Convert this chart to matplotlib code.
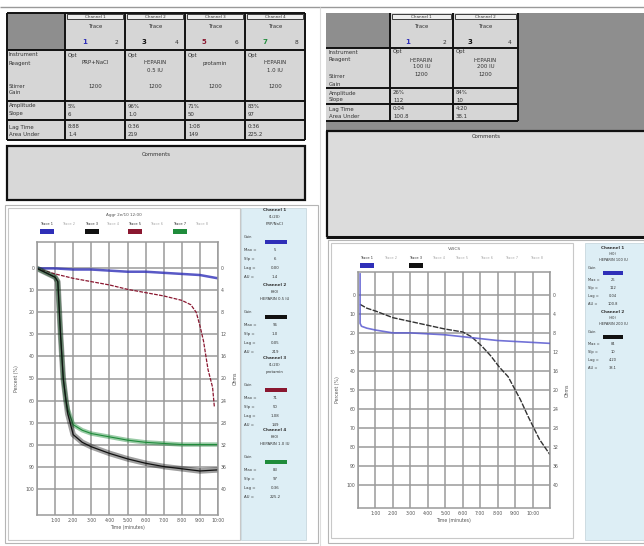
import matplotlib
matplotlib.use("Agg")
import matplotlib.pyplot as plt
from matplotlib.patches import Rectangle

W, H = 644, 546

# ---- data ----
trace_names = ['Trace 1', 'Trace 2', 'Trace 3', 'Trace 4', 'Trace 5', 'Trace 6', 'Trace 7', 'Trace 8']
col_blue, col_black, col_red, col_green = '#2f2fb8', '#111111', '#8a1730', '#1f8c3b'

# left test: time in minutes, aggregation in %
left_t_blue = [0, 1, 2, 3, 4, 5, 6, 7, 8, 9, 10]
left_blue = [0, 0, 0.5, 0.5, 1, 1.5, 1.5, 2, 2.5, 3, 4.5]
left_t_red = [0, 1, 2, 3, 4, 5, 6, 7, 8, 8.5, 8.8, 9.0, 9.2, 9.45, 9.7, 9.8]
left_red = [0, 2.5, 4.5, 6, 7.5, 9.5, 11, 12.5, 14.5, 16.5, 20, 26, 33, 46, 54, 63]
left_t_fast = [0, 0.5, 1.0, 1.15, 1.3, 1.45, 1.6, 1.7, 2, 2.5, 3, 4, 5, 6, 7, 8, 9, 10]
left_black = [0, 2, 4, 6, 30, 50, 60, 66, 75.5, 79, 81, 84, 86.5, 88.5, 90, 91, 92, 91.5]
left_green = [0, 2, 4, 6, 30, 50, 60, 64, 71, 73.5, 75, 76.5, 78, 79, 79.5, 80, 80, 80]

# right test
right_t_blue = [0.12, 0.12, 0.2, 0.5, 1, 2, 3, 4, 5, 6, 7, 8, 9, 10, 11]
right_blue = [-11, 15, 16.5, 17.5, 18.5, 20, 20, 20.5, 21, 22, 23, 24, 24.5, 25, 25.5]
right_t_black = [0.12, 0.5, 1, 2, 3, 4, 5, 6, 6.5, 7.1, 7.6, 8.1, 8.6, 9.3, 9.75, 10.4, 11]
right_black = [5, 7, 8.5, 12, 14, 16, 18, 19.5, 22, 27, 32, 38, 43, 55, 64, 76, 84]

x_labels = ['1:00', '2:00', '3:00', '4:00', '5:00', '6:00', '7:00', '8:00', '9:00', '10:00']

# table contents
row_labels = ['Instrument', 'Reagent', 'Stirrer', 'Gain', 'Amplitude', 'Slope', 'Lag Time', 'Area Under']
left_channels = ['Channel 1', 'Channel 2', 'Channel 3', 'Channel 4']
left_trace_nums = [('1', '2'), ('3', '4'), ('5', '6'), ('7', '8')]
left_trace_cols = [col_blue, col_black, col_red, col_green]
left_reagent = ['PRP+NaCl', 'HEPARIN', 'protamin', 'HEPARIN']
left_dose = ['', '0.5 IU', '', '1.0 IU']
left_amp = ['5%', '96%', '71%', '83%']
left_slope = ['6', '1.0', '50', '97']
left_lag = ['8:88', '0:36', '1:08', '0:36']
left_area = ['1.4', '219', '149', '225.2']

right_channels = ['Channel 1', 'Channel 2']
right_trace_nums = [('1', '2'), ('3', '4')]
right_trace_cols = [col_blue, col_black]
right_reagent = ['HEPARIN', 'HEPARIN']
right_dose = ['100 IU', '200 IU']
right_amp = ['26%', '84%']
right_slope = ['112', '10']
right_lag = ['0:04', '4:20']
right_area = ['100.8', '38.1']

fig = plt.figure(figsize=(W / 100, H / 100), dpi=100)
bg = fig.add_axes([0, 0, 1, 1])
bg.set_xlim(0, W)
bg.set_ylim(H, 0)
bg.axis('off')


def rect(x0, y0, x1, y1, fc='none', ec='none', lw=0, z=1):
    bg.add_patch(Rectangle((x0, y0), x1 - x0, y1 - y0, facecolor=fc, edgecolor=ec, linewidth=lw, zorder=z))


def txt(x, y, s, size=3.9, ha='left', color='#333333', weight='normal'):
    bg.text(x, y, s, fontsize=size, ha=ha, va='center', color=color, fontweight=weight, zorder=5)


def hline(x0, x1, y, lw=1.4, color='#111111'):
    bg.plot([x0, x1], [y, y], color=color, lw=lw, zorder=4, solid_capstyle='butt')


def vline(x, y0, y1, lw=1.4, color='#111111'):
    bg.plot([x, x], [y0, y1], color=color, lw=lw, zorder=4, solid_capstyle='butt')


cell = '#d6d6d6'
dark = '#8e8e8e'

# top rule and middle separator
hline(0, W, 7, lw=1.0, color='#999999')
vline(320, 7, 546, lw=0.8, color='#dddddd')

# ---------- left table ----------
rect(7, 13, 305, 140, fc=cell)
rect(7, 13, 65, 50, fc=dark)
col_x = [65, 125, 185, 245, 305]
for i, name in enumerate(left_channels):
    x0, x1 = col_x[i], col_x[i + 1]
    rect(x0 + 2, 14, x1 - 2, 19, fc='#eeeeee', ec='#222222', lw=0.6, z=3)
    txt((x0 + x1) / 2, 16.5, name, size=3.0, ha='center')
    txt((x0 + x1) / 2, 26, 'Trace', ha='center')
    a, b = left_trace_nums[i]
    txt(x0 + 17, 42, a, size=5, color=left_trace_cols[i], weight='bold')
    txt(x1 - 10, 42, b, size=4.2)
    txt(x0 + 3, 55, 'Opt')
    txt((x0 + x1) / 2, 63, left_reagent[i], ha='center')
    txt((x0 + x1) / 2, 70, left_dose[i], ha='center')
    txt((x0 + x1) / 2, 86, '1200', ha='center')
    txt(x0 + 3, 106, left_amp[i])
    txt(x0 + 3, 114, left_slope[i])
    txt(x0 + 3, 127, left_lag[i])
    txt(x0 + 3, 135, left_area[i])
for lab, y in zip(row_labels, [55, 63, 86, 93, 106, 114, 127, 135]):
    txt(9, y, lab)
for y in [13, 50, 101, 120, 140]:
    hline(7, 305, y)
for x in [7] + col_x:
    vline(x, 13, 140)
rect(7, 146, 305, 200, fc='#d8d8d8', ec='#111111', lw=1.6, z=3)
txt(156, 155, 'Comments', ha='center')

# ---------- right table ----------
rect(326, 13, 644, 130, fc=dark)
rect(390, 13, 518, 121, fc=cell)
rect(326, 48, 390, 121, fc=cell)
rcol_x = [390, 453, 518]
for i, name in enumerate(right_channels):
    x0, x1 = rcol_x[i], rcol_x[i + 1]
    rect(x0 + 2, 14, x1 - 2, 19, fc='#eeeeee', ec='#222222', lw=0.6, z=3)
    txt((x0 + x1) / 2, 16.5, name, size=3.0, ha='center')
    txt((x0 + x1) / 2, 26, 'Trace', ha='center')
    a, b = right_trace_nums[i]
    txt(x0 + 15, 42, a, size=5, color=right_trace_cols[i], weight='bold')
    txt(x1 - 10, 42, b, size=4.2)
    txt(x0 + 3, 52, 'Opt')
    txt((x0 + x1) / 2, 60, right_reagent[i], ha='center')
    txt((x0 + x1) / 2, 67, right_dose[i], ha='center')
    txt((x0 + x1) / 2, 74, '1200', ha='center')
    txt(x0 + 3, 93, right_amp[i])
    txt(x0 + 3, 100, right_slope[i])
    txt(x0 + 3, 109, right_lag[i])
    txt(x0 + 3, 116, right_area[i])
for lab, y in zip(row_labels, [52, 60, 77, 84, 93, 100, 109, 116]):
    txt(329, y, lab)
for y in [48, 88, 104, 121]:
    hline(326, 518, y)
for x in rcol_x:
    vline(x, 13, 121)
rect(328, 131, 644, 237, fc='#dcdcdc')
hline(326, 644, 131, lw=1.6)
hline(326, 644, 237, lw=2.2)
vline(327, 131, 237, lw=1.6)
txt(486, 137, 'Comments', ha='center')

# ---------- chart panels ----------
rect(5, 205, 318, 543, fc='white', ec='#b5b5b5', lw=0.8)
rect(8, 208, 240, 540, fc='white', ec='#c8c8c8', lw=0.8)
rect(241, 208, 306, 540, fc='#ddeef5', ec='#c8d8de', lw=0.6)
rect(328, 240, 644, 543, fc='white', ec='#b5b5b5', lw=0.8)
rect(331, 243, 573, 538, fc='white', ec='#c8c8c8', lw=0.8)
rect(585, 243, 644, 540, fc='#ddeef5', ec='#c8d8de', lw=0.6)


def px_axes(x0, y0, x1, y1):
    return fig.add_axes([x0 / W, 1 - y1 / H, (x1 - x0) / W, (y1 - y0) / H])


def style_chart(ax, xmax):
    ax.set_xlim(0, xmax)
    ax.set_ylim(112, -12)
    ax.set_yticks(range(0, 101, 10))
    ax.set_yticklabels([str(v) for v in range(0, 101, 10)])
    ax.set_xticks(range(0, xmax + 1))
    ax.set_xticklabels([''] + x_labels + [''] * (xmax - 10))
    ax.grid(True, color='#9a9a9a', lw=1.1)
    ax.tick_params(length=0, labelsize=3.3, labelcolor='#555555', pad=2)
    for s in ax.spines.values():
        s.set_color('#9a9a9a')
        s.set_linewidth(1.1)
    ax.set_xlabel('Time (minutes)', fontsize=3.3, color='#555555', labelpad=1.5)
    ax.set_ylabel('Percent (%)', fontsize=3.3, color='#555555', labelpad=5)
    ax2 = ax.twinx()
    ax2.set_ylim(112 * 0.4, -12 * 0.4)
    ax2.set_yticks(range(0, 41, 4))
    ax2.tick_params(length=0, labelsize=3.3, labelcolor='#555555', pad=2)
    ax2.set_ylabel('Ohms', fontsize=3.3, color='#555555', labelpad=4)
    for s in ax2.spines.values():
        s.set_visible(False)


# left chart
axl = px_axes(37, 242, 218, 515)
style_chart(axl, 10)
axl.plot(left_t_blue, left_blue, color=col_blue, lw=1.8, alpha=0.8)
axl.plot(left_t_red, left_red, color=col_red, lw=0.9, ls=(0, (3, 1)))
axl.plot(left_t_fast, left_green, color=col_green, lw=3.2, alpha=0.45)
axl.plot(left_t_fast, left_green, color=col_green, lw=0.8)
axl.plot(left_t_fast, left_black, color=col_black, lw=4.0, alpha=0.4)
axl.plot(left_t_fast, left_black, color=col_black, lw=0.9)

txt(124, 215, 'Aggr 2e/10 12:00', size=3.0, ha='center', color='#555555')
tag_x = [47, 69, 92, 113, 135, 157, 180, 202]
tag_cols = [col_blue, None, col_black, None, col_red, None, col_green, None]
for x, name, c in zip(tag_x, trace_names, tag_cols):
    txt(x, 224, name, size=2.6, ha='center', color='#333333' if c else '#aaaaaa')
    if c:
        rect(x - 7, 229, x + 7, 234, fc=c, z=3)

# right chart
axr = px_axes(358, 272, 550, 508)
style_chart(axr, 11)
axr.plot(right_t_blue, right_blue, color='#5a5ad0', lw=1.2, alpha=0.85, zorder=5)
axr.plot(right_t_black, right_black, color='#333333', lw=1.0, ls=(0, (4, 1)))

txt(455, 249, 'VWCS', size=3.2, ha='center', color='#555555')
rtag_x = [367, 391, 416, 439, 462, 487, 512, 537]
rtag_cols = [col_blue, None, col_black, None, None, None, None, None]
for x, name, c in zip(rtag_x, trace_names, rtag_cols):
    txt(x, 258, name, size=2.6, ha='center', color='#333333' if c else '#aaaaaa')
    if c:
        rect(x - 7, 263, x + 7, 268, fc=c, z=3)

# ---------- side info panels ----------
side_left = [
    ('Channel 1', '(1/20)', 'PRP/NaCl', col_blue, '5', '6', '0.00', '1.4'),
    ('Channel 2', '(H0)', 'HEPARIN 0.5 IU', col_black, '96', '1.0', '0.05', '219'),
    ('Channel 3', '(1/20)', 'protamin', col_red, '71', '50', '1.08', '149'),
    ('Channel 4', '(H0)', 'HEPARIN 1.0 IU', col_green, '83', '97', '0.36', '225.2'),
]
side_y0 = [210, 285, 358, 430]
for (h, s1, s2, c, mx, sl, lg, au), y0 in zip(side_left, side_y0):
    txt(275, y0, h, size=3.0, ha='center', weight='bold')
    txt(275, y0 + 7, s1, size=2.8, ha='center')
    txt(275, y0 + 14, s2, size=2.8, ha='center')
    txt(244, y0 + 27, 'Gain', size=2.6)
    rect(265, y0 + 30, 287, y0 + 34, fc=c, z=3)
    for k, (lab, val) in enumerate(zip(['Max =', 'Slp =', 'Lag =', 'AU ='], [mx, sl, lg, au])):
        txt(244, y0 + 40 + k * 9, lab, size=2.8)
        txt(275, y0 + 40 + k * 9, val, size=2.8, ha='center')

side_right = [
    ('Channel 1', '(H0)', 'HEPARIN 100 IU', col_blue, '26', '112', '0.04', '100.8'),
    ('Channel 2', '(H0)', 'HEPARIN 200 IU', col_black, '84', '10', '4.20', '38.1'),
]
for (h, s1, s2, c, mx, sl, lg, au), y0 in zip(side_right, [248, 312]):
    txt(613, y0, h, size=3.0, ha='center', weight='bold')
    txt(613, y0 + 6, s1, size=2.6, ha='center')
    txt(613, y0 + 12, s2, size=2.6, ha='center')
    txt(588, y0 + 20, 'Gain', size=2.6)
    rect(603, y0 + 23, 623, y0 + 27, fc=c, z=3)
    for k, (lab, val) in enumerate(zip(['Max =', 'Slp =', 'Lag =', 'AU ='], [mx, sl, lg, au])):
        txt(588, y0 + 32 + k * 8, lab, size=2.6)
        txt(613, y0 + 32 + k * 8, val, size=2.6, ha='center')

fig.savefig('out.png', dpi=100)
